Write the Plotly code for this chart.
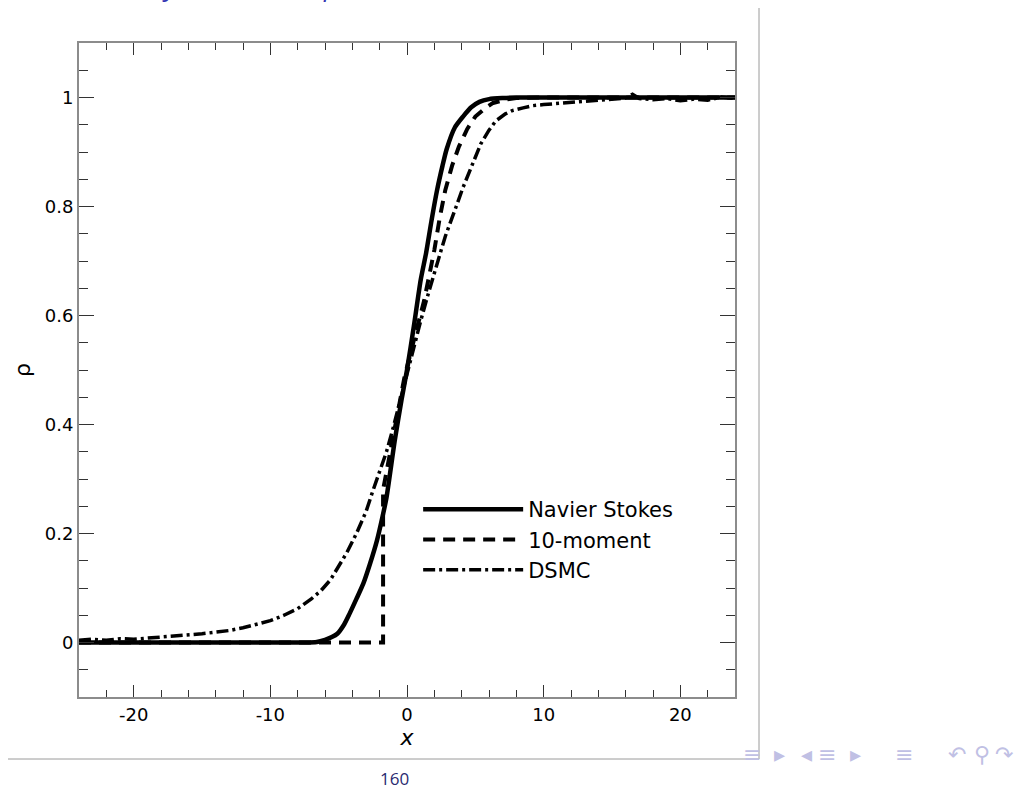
import plotly.graph_objects as go

# ---------------- data ----------------
ns_x = [-24, -10, -7.5, -6.6, -6.0, -5.5, -5.1, -4.6, -4.2, -3.7, -3.2, -2.7, -2.2, -1.8, -1.5,
        -0.9, -0.4, 0.0, 0.5, 1.0, 1.4, 1.8, 2.2, 2.6, 2.9, 3.5, 4.1, 4.7, 5.3, 6.0, 7.0, 8.0, 10, 24]
ns_y = [0, 0, 0, 0.001, 0.005, 0.010, 0.016, 0.033, 0.053, 0.080, 0.108, 0.145, 0.187, 0.230, 0.266,
        0.37, 0.445, 0.50, 0.58, 0.665, 0.715, 0.775, 0.83, 0.875, 0.905, 0.945, 0.965, 0.982, 0.992,
        0.997, 0.999, 1.0, 1.0, 1.0]

tm_x = [-24, -1.75, -1.75, -1.4, -1.0, -0.6, -0.2, 0.3, 0.8, 1.25, 1.6, 2.0, 2.4, 2.8, 3.3, 3.8,
        4.4, 5.0, 5.7, 6.3, 7.2, 8.0, 10, 24]
tm_y = [0, 0, 0.28, 0.325, 0.375, 0.43, 0.485, 0.535, 0.585, 0.627, 0.67, 0.72, 0.78, 0.83, 0.875,
        0.91, 0.942, 0.965, 0.98, 0.99, 0.996, 0.999, 1.0, 1.0]

ds_x = [-24, -23, -22, -21, -20, -19, -18, -17, -16, -15, -14, -13, -12, -11, -10, -9, -8, -7,
        -6.3, -5.6, -5.0, -4.4, -3.7, -3.0, -2.5, -2.0, -1.5, -1.0, -0.5, 0.0, 0.5, 1.0, 1.5, 2.0,
        2.5, 2.8, 3.2, 3.6, 4.1, 4.6, 5.0, 5.4, 6.0, 6.5, 7.2, 7.7, 8.5, 9.2, 10, 11, 12, 13, 14,
        15, 16, 16.5, 17, 18, 19, 20, 21, 22, 23, 24]
ds_y = [0.004, 0.006, 0.004, 0.007, 0.006, 0.008, 0.009, 0.011, 0.013, 0.016, 0.019, 0.022, 0.027,
        0.033, 0.040, 0.050, 0.062, 0.080, 0.095, 0.115, 0.140, 0.165, 0.200, 0.240, 0.278, 0.315,
        0.350, 0.395, 0.445, 0.495, 0.545, 0.590, 0.635, 0.680, 0.720, 0.745, 0.775, 0.800, 0.835,
        0.866, 0.893, 0.915, 0.940, 0.957, 0.970, 0.976, 0.981, 0.985, 0.987, 0.989, 0.991, 0.993,
        0.995, 0.997, 0.999, 1.006, 0.998, 0.996, 0.998, 0.994, 0.997, 0.995, 1.001, 0.998]

x_tick_vals = [-20, -10, 0, 10, 20]
x_tick_text = ['-20', '-10', '0', '10', '20']
y_tick_vals = [0, 0.2, 0.4, 0.6, 0.8, 1.0]
y_tick_text = ['0', '0.2', '0.4', '0.6', '0.8', '1']

# ---------------- figure ----------------
fig = go.Figure()
fig.add_trace(go.Scatter(x=ns_x, y=ns_y, mode='lines', name='Navier Stokes',
                         line=dict(color='black', width=4.5, shape='spline', smoothing=0.6)))
fig.add_trace(go.Scatter(x=tm_x, y=tm_y, mode='lines', name='10-moment',
                         line=dict(color='black', width=4, dash='12px,8px')))
fig.add_trace(go.Scatter(x=ds_x, y=ds_y, mode='lines', name='DSMC',
                         line=dict(color='black', width=3.5, dash='12px,4px,3px,4px')))

FONT = 'DejaVu Sans'
axis_common = dict(
    showgrid=False, zeroline=False, showline=True, linecolor='#8c8c8c', linewidth=2,
    mirror='allticks', ticks='inside', tickcolor='#333333', tickwidth=1,
    tickfont=dict(family=FONT, size=18, color='black'),
)

fig.update_xaxes(range=[-24, 24], tickmode='array', tickvals=x_tick_vals, ticktext=x_tick_text,
                 ticklen=12,
                 minor=dict(dtick=2, tick0=0, ticklen=7, ticks='inside', tickcolor='#333333'),
                 title=dict(text='<i>x</i>', font=dict(family=FONT, size=22, color='black'),
                            standoff=0),
                 **axis_common)
fig.update_yaxes(range=[-0.1, 1.1], tickmode='array', tickvals=y_tick_vals, ticktext=y_tick_text,
                 ticklen=15,
                 minor=dict(dtick=0.05, tick0=0, ticklen=9, ticks='inside', tickcolor='#333333'),
                 title=dict(text='ρ', font=dict(family=FONT, size=22, color='black'), standoff=8),
                 **axis_common)

def px2x(px):
    return (px - 79) / 656.0

def py2y(py):
    return (697 - py) / 654.0

shapes = [
    dict(type='line', xref='paper', yref='paper', x0=px2x(759), x1=px2x(759),
         y0=py2y(8), y1=py2y(759), line=dict(color='#9a9a9a', width=1)),
    dict(type='line', xref='paper', yref='paper', x0=px2x(8), x1=px2x(759),
         y0=py2y(759), y1=py2y(759), line=dict(color='#9a9a9a', width=1)),
]

annotations = [
    dict(text='160', x=px2x(394), y=py2y(792), xref='paper', yref='paper', showarrow=False,
         font=dict(family='Open Sans', size=17, color='#2a2a70')),
]
nav = [('≡', 763), ('▸', 787), ('◂', 814), ('≡', 838), ('▸', 863), ('≡', 915),
       ('↶', 968), ('⚲', 992), ('↷', 1015)]
for ch, px in nav:
    annotations.append(dict(text=ch, x=px2x(px), y=py2y(769), xref='paper', yref='paper',
                            showarrow=False, font=dict(family=FONT, size=22, color='#c0c0e4')))
top = [(',', 20), ('y', 160), (',', 303), ('ρ', 331)]
for ch, px in top:
    annotations.append(dict(text='<i>' + ch + '</i>', x=px2x(px), y=py2y(6), xref='paper',
                            yref='paper', yanchor='bottom', showarrow=False,
                            font=dict(family='Open Sans', size=26, color='#3333b3')))

fig.update_layout(
    width=1029, height=790,
    margin=dict(l=79, r=294, t=43, b=93),
    paper_bgcolor='white', plot_bgcolor='white',
    showlegend=True,
    legend=dict(x=0.517, y=0.318, xanchor='left', yanchor='top', bgcolor='rgba(0,0,0,0)',
                font=dict(family=FONT, size=21, color='black'), itemwidth=100,
                tracegroupgap=0),
    shapes=shapes, annotations=annotations,
)

fig.write_html('out.html')
